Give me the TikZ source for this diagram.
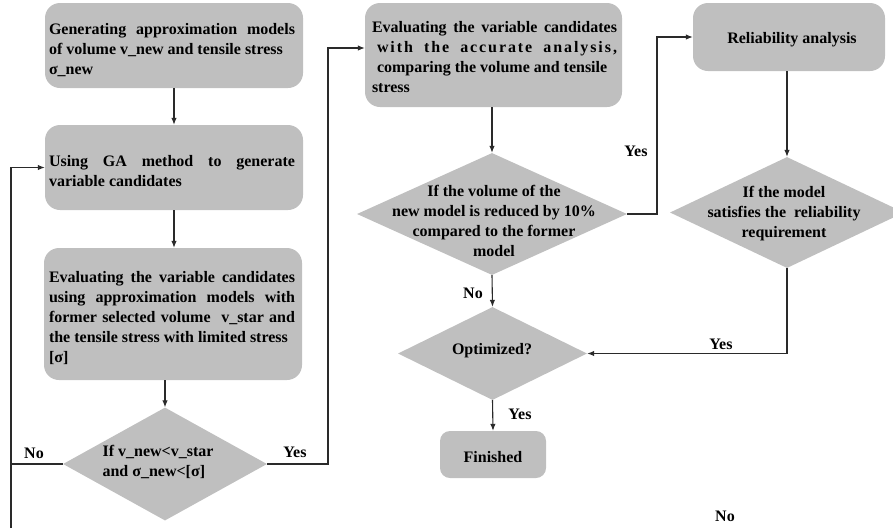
\documentclass[tikz,border=0pt]{standalone}
\usepackage{fontspec}
\setmainfont{Liberation Serif}
\usetikzlibrary{shapes.geometric,arrows.meta}
\definecolor{boxgray}{HTML}{BFBFBF}
\definecolor{linegray}{HTML}{2A2A2A}
\tikzset{
  txt/.style={font=\bfseries\fontsize{16pt}{20pt}\selectfont},
  procbox/.style={fill=boxgray,rounded corners=15pt,inner sep=0pt},
  jtext/.style={txt,inner sep=0pt,align=justify},
  dia/.style={diamond,fill=boxgray,inner sep=0pt},
  lbl/.style={txt,inner sep=0pt},
  conn/.style={draw=linegray,line width=1.1pt},
  arr/.style={conn,-{Latex[length=7pt,width=5.5pt]}}
}
\begin{document}
\begin{tikzpicture}[x=1pt,y=-1pt]
\useasboundingbox (0,0) rectangle (893,528);
\clip (0,0) rectangle (893,528);
\hyphenpenalty=10000
% left column
\node[procbox,minimum width=258pt,minimum height=85pt] (b1) at (174,45.5) {};
\node[jtext,text width=246pt] (b1t) at (172,50)
  {Generating approximation models\linebreak of volume v\_new and tensile stress\\ σ\_new};
\node[procbox,minimum width=258pt,minimum height=85pt] (b2) at (174,167.5) {};
\node[jtext,text width=246pt] (b2t) at (172,171.5)
  {Using GA method to generate\linebreak variable candidates};
\node[procbox,minimum width=258pt,minimum height=132pt] (b3) at (173,314) {};
\node[jtext,text width=246pt] (b3t) at (172,318)
  {Evaluating the variable candidates\linebreak using approximation models with\linebreak former selected volume\ \ v\_star and\linebreak the tensile stress with limited stress\\ {[σ]}};
\node[dia,minimum width=204pt,minimum height=113pt] (d1) at (165,464) {};
\node[lbl,align=left] (d1t) at (158,462) {If v\_new<v\_star\\and σ\_new<{[σ]}};
% middle column
\node[procbox,minimum width=257pt,minimum height=104pt] (b4) at (493.5,55) {};
\node[jtext,text width=245pt] (b4t) at (494.5,57)
  {Evaluating the variable candidates\linebreak \hspace*{5pt}{\addfontfeatures{LetterSpace=12}with the accurate analysis,}\linebreak \hspace*{5pt}comparing the volume and tensile\\ stress};
\node[dia,minimum width=270pt,minimum height=122pt] (d2) at (492,214) {};
\node[lbl,align=center] (d2t) at (494,221) {If the volume of the\\new model is reduced by 10\%\\compared to the former\\model};
\node[dia,minimum width=189pt,minimum height=93pt] (opt) at (492.5,353.5) {};
\node[lbl] (optt) at (492,351) {Optimized?};
\node[procbox,minimum width=106pt,minimum height=47pt,rounded corners=10pt] (fin) at (493,454.5) {};
\node[lbl] (fint) at (493,457.5) {Finished};
% right column
\node[procbox,minimum width=192pt,minimum height=68pt] (b5) at (789,37) {};
\node[lbl] (b5t) at (792,39.5) {Reliability analysis};
\node[dia,minimum width=234pt,minimum height=111pt] (d3) at (787,212.5) {};
\node[lbl,align=center] (d3t) at (784,214) {If the model\\satisfies the\ \ reliability\\requirement};
% connectors
\draw[arr] (b1.south) -- (b2.north);
\draw[arr] (b2.south) -- (b2.south |- b3.north);
\draw[arr] (b3.south -| d1.north) -- (d1.north);
\coordinate (bl) at (11,528);
\draw[conn] (d1.west) -- (d1.west -| bl);
\draw[arr] (bl) |- (b2.west);
\coordinate (j1) at (328,48);
\draw[arr] (d1.east) -| (j1) -- (j1 -| b4.west);
\draw[arr] (b4.south -| d2.north) -- (d2.north);
\coordinate (j2) at (657,37);
\draw[arr] (d2.east) -| (j2) -- (b5.west);
\draw[arr] (b5.south -| d3.north) -- (d3.north);
\draw[arr] (d2.south) -- (opt.north);
\draw[arr] (d3.south) |- (opt.east);
\draw[arr] (opt.south) -- (fin.north);
% labels
\node[lbl] (ly1) at (295,452) {Yes};
\node[lbl] (ln1) at (34,453) {No};
\node[lbl] (ly2) at (636,151) {Yes};
\node[lbl] (ln2) at (473,293) {No};
\node[lbl] (ly3) at (721,344) {Yes};
\node[lbl] (ly4) at (520,414) {Yes};
\node[lbl] (ln3) at (725,516) {No};
\end{tikzpicture}
\end{document}
